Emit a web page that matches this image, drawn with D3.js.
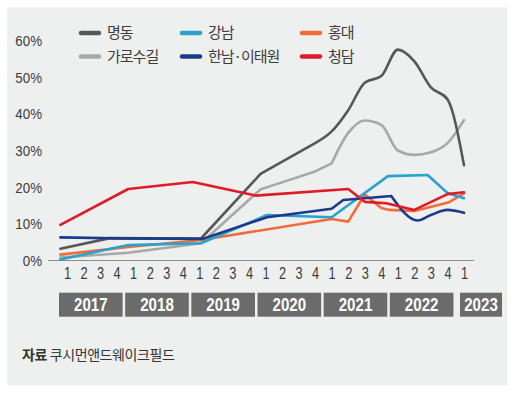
<!DOCTYPE html>
<html>
<head>
<meta charset="utf-8">
<script src="https://cdn.jsdelivr.net/npm/d3@7"></script>
<style>
  body { margin: 0; background: #fff; }
  svg { display: block; }
</style>
</head>
<body>
<svg width="513" height="396"></svg>
<script>
// quarter index t: 0 = 2017 Q1 ... 24 = 2023 Q1 (annual points sit between ticks)
const quarterLabels = ["1","2","3","4","1","2","3","4","1","2","3","4","1","2","3","4","1","2","3","4","1","2","3","4","1"];
const years = ["2017","2018","2019","2020","2021","2022","2023"];
const yTicks = [0, 10, 20, 30, 40, 50, 60];

// vacancy rate (%), [t, value]
const myeongdong = [[-0.4,3.2],[2.6,6.1],[8.1,6.0],[11.7,23.6],[15,32.0],[16,35.2],[17,41.0],[18,48.5],[19,50.3],[20,57.5],[21,54.3],[22,47.2],[23,44.0],[24,26.0]];
const garosugil = [[-0.4,0.8],[3.7,2.1],[8.1,4.7],[11.7,19.4],[15,24.3],[16,26.5],[17,34.8],[18,38.2],[19,37.0],[20,30.0],[21,28.8],[22,29.5],[23,32.0],[24,38.3]];
const gangnam = [[-0.4,0.3],[3.7,4.2],[8.1,4.7],[12.1,12.4],[16,11.8],[19.4,23.0],[21.8,23.3],[23,18.4],[24,17.0]];
const hongdae = [[-0.4,1.6],[3.7,3.7],[8.1,5.6],[16,11.3],[17,10.6],[18,18.0],[19,14.3],[19.5,13.8],[21,13.5],[23.1,15.9],[24,18.3]];
const hannam = [[-0.4,6.3],[3.7,6.0],[8.2,5.9],[12.1,11.8],[16,14.1],[16.7,16.5],[19.6,17.6],[21.2,10.9],[22,12.4],[23,13.8],[24,13.0]];
const cheongdam = [[-0.4,9.7],[3.7,19.5],[7.6,21.4],[11.4,17.7],[17,19.5],[18,16.0],[19.3,15.6],[21,13.8],[23,18.1],[24,18.6]];

// drawing order (last on top); smoothFrom = where the drawn line turns curved
const series = [
  { name: "가로수길", data: garosugil, color: "#a8a8a8", smoothFrom: 16 },
  { name: "명동", data: myeongdong, color: "#575757", smoothFrom: 15 },
  { name: "홍대", data: hongdae, color: "#f26b3a", smoothFrom: 99 },
  { name: "강남", data: gangnam, color: "#2aa2cc", smoothFrom: 99 },
  { name: "한남·이태원", data: hannam, color: "#1b3a8e", smoothFrom: 19.6 },
  { name: "청담", data: cheongdam, color: "#e01b28", smoothFrom: 99 }
];
const legendOrder = [["명동","강남","홍대"],["가로수길","한남·이태원","청담"]];

// no narrow font installed, so squeeze Liberation Sans horizontally
const numFont = "'Liberation Sans', Arial, sans-serif";
const korFont = "'Noto Sans CJK KR', sans-serif";

const svg = d3.select("svg"),
    width = +svg.attr("width"),
    height = +svg.attr("height");

// grey panel
svg.append("rect")
    .attr("x", 7).attr("y", 7.5)
    .attr("width", 500.5).attr("height", 377.5)
    .attr("fill", "#eeefef");

const x = d3.scaleLinear().domain([0, 24]).range([67, 464]);
const y = d3.scaleLinear().domain([0, 60]).range([260.5, 40.5]);

// y labels
const yAxis = svg.append("g")
    .attr("transform", "translate(48,0)")
    .call(d3.axisLeft(y).tickValues(yTicks).tickFormat(d => d + "%").tickSize(0).tickPadding(7));
yAxis.select(".domain").remove();
yAxis.selectAll("text")
    .attr("font-family", numFont)
    .attr("font-size", 15.5)
    .attr("transform", "scale(0.86,1)")
    .attr("fill", "#3d3d3d");

// baseline
svg.append("line")
    .attr("x1", x(0) - 19).attr("x2", x(24) + 10)
    .attr("y1", y(0)).attr("y2", y(0))
    .attr("stroke", "#8c8c8c")
    .attr("stroke-width", 1.2);

// quarter labels
const xAxis = svg.append("g")
    .attr("transform", `translate(0,${y(0)})`)
    .call(d3.axisBottom(x).tickValues(d3.range(quarterLabels.length)).tickFormat(i => quarterLabels[i]).tickSize(0).tickPadding(7.5));
xAxis.select(".domain").remove();
xAxis.selectAll("text")
    .attr("font-family", numFont)
    .attr("font-size", 16)
    .attr("transform", "scale(0.8,1)")
    .attr("fill", "#3d3d3d");

// year boxes
const boxes = years.map((yr, k) => {
    const qs = d3.range(quarterLabels.length).filter(i => Math.floor(i / 4) === k);
    let left = x(qs[0]) - 8, right = x(qs[qs.length - 1]) + 6;
    if (right - left < 42) { left = x(qs[0]) - 4; right = left + 42; }
    return { yr, left, right };
});
const yb = svg.append("g");
yb.selectAll("rect")
    .data(boxes)
    .join("rect")
    .attr("x", d => d.left)
    .attr("y", 292.7)
    .attr("width", d => d.right - d.left)
    .attr("height", 24)
    .attr("fill", "#6b6b6b");
yb.selectAll("text")
    .data(boxes)
    .join("text")
    .attr("transform", d => `translate(${(d.left + d.right) / 2},305) scale(0.84,1)`)
    .attr("dy", "0.36em")
    .attr("text-anchor", "middle")
    .attr("font-family", numFont)
    .attr("font-weight", "bold")
    .attr("font-size", 18)
    .attr("fill", "#fff")
    .text(d => d.yr);

// lines
const straight = d3.line().x(d => x(d[0])).y(d => y(d[1]));
const smooth = d3.line().x(d => x(d[0])).y(d => y(d[1])).curve(d3.curveMonotoneX);

svg.append("g")
    .selectAll("path")
    .data(series)
    .join("path")
    .attr("d", s => {
        const a = s.data.filter(d => d[0] <= s.smoothFrom);
        const b = s.data.filter(d => d[0] >= s.smoothFrom);
        return straight(a) + (b.length > 1 ? smooth(b) : "");
    })
    .attr("fill", "none")
    .attr("stroke", s => s.color)
    .attr("stroke-width", 2.6)
    .attr("stroke-linejoin", "round")
    .attr("stroke-linecap", "round");

// legend
const colX = [79, 180, 300], rowY = [33, 56.5];
const legendItems = [];
legendOrder.forEach((row, r) => row.forEach((name, c) => {
    legendItems.push({ s: series.find(s => s.name === name), lx: colX[c], ly: rowY[r] });
}));
const lg = svg.append("g");
lg.selectAll("line")
    .data(legendItems)
    .join("line")
    .attr("x1", d => d.lx + 2).attr("x2", d => d.lx + 20)
    .attr("y1", d => d.ly).attr("y2", d => d.ly)
    .attr("stroke", d => d.s.color)
    .attr("stroke-width", 4.5)
    .attr("stroke-linecap", "round");
lg.selectAll("text")
    .data(legendItems)
    .join("text")
    .attr("x", d => d.lx + 28)
    .attr("y", d => d.ly)
    .attr("dy", "0.35em")
    .attr("font-family", korFont)
    .attr("font-size", 15)
    .attr("letter-spacing", -1)
    .attr("fill", "#3d3d3d")
    .text(d => d.s.name);

// source
const src = svg.append("text")
    .attr("x", 22).attr("y", 360)
    .attr("font-family", korFont)
    .attr("font-size", 14)
    .attr("letter-spacing", -0.4)
    .attr("fill", "#333");
src.append("tspan").attr("font-weight", "bold").text("자료");
src.append("tspan").text(" 쿠시먼앤드웨이크필드");
</script>
</body>
</html>
